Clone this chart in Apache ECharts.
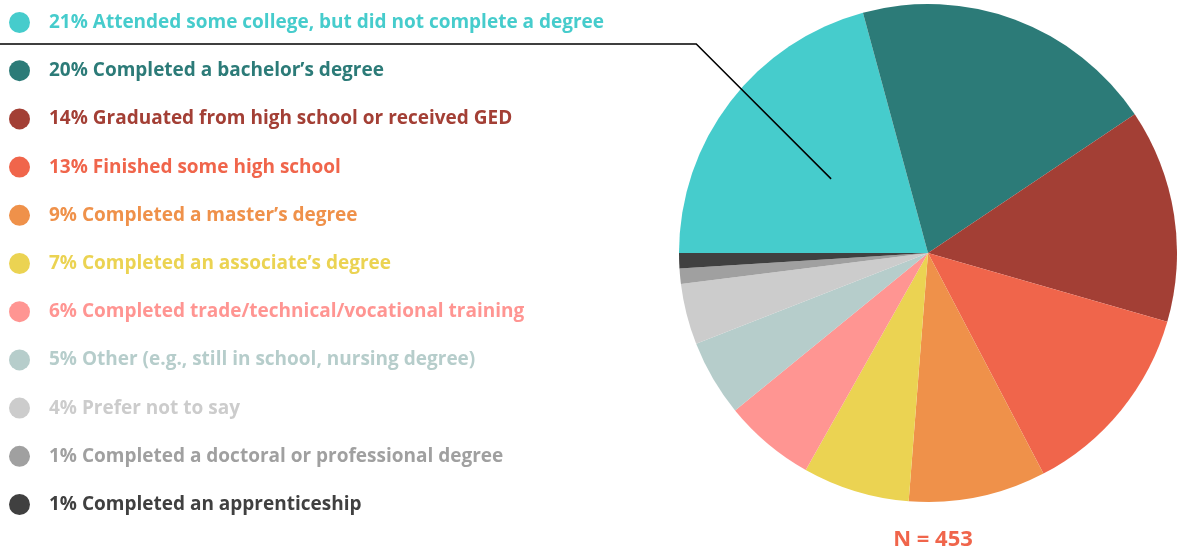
<!DOCTYPE html>
<html>
<head>
<meta charset="utf-8">
<script src="https://cdn.jsdelivr.net/npm/echarts@6/dist/echarts.min.js"></script>
<style>
html, body { margin: 0; padding: 0; background: #fff; }
#chart { width: 1177px; height: 548px; }
</style>
</head>
<body>
<div id="chart"></div>
<script>
var labels = [
	'Attended some college, but did not complete a degree',
	'Completed a bachelor\u2019s degree',
	'Graduated from high school or received GED',
	'Finished some high school',
	'Completed a master\u2019s degree',
	'Completed an associate\u2019s degree',
	'Completed trade/technical/vocational training',
	'Other (e.g., still in school, nursing degree)',
	'Prefer not to say',
	'Completed a doctoral or professional degree',
	'Completed an apprenticeship'
];
var pcts = [21, 20, 14, 13, 9, 7, 6, 5, 4, 1, 1];
var colors = ['#46cccc', '#2c7b78', '#a33f35', '#f0654b', '#ef914a', '#ebd352',
	'#ff9592', '#b6cdcb', '#cccccc', '#a0a0a0', '#404040'];
var nText = 'N = 453';

var fontFam = '"Open Sans", sans-serif';
var center = [928, 253];
var radius = 249;

var names = [], pieData = [], legendData = [];
for (var i = 0; i < labels.length; i++) {
	names.push(pcts[i] + '% ' + labels[i]);
	pieData.push({ name: names[i], value: pcts[i], itemStyle: { color: colors[i] } });
	legendData.push({ name: names[i], itemStyle: { color: colors[i] }, textStyle: { color: colors[i] } });
}

// leader line: from middle of first slice, up-left, then flat to the left edge
var total = 0;
for (var j = 0; j < pcts.length; j++) total += pcts[j];
var startDeg = 180;
var midDeg = startDeg - (pcts[0] / total) * 360 / 2;
var rad = midDeg * Math.PI / 180;
var px = center[0] + Math.cos(rad) * radius * 0.49;
var py = center[1] - Math.sin(rad) * radius * 0.49;
var elbowY = 44;
var elbowX = px - (py - elbowY) * 1.0;

var option = {
	backgroundColor: '#fff',
	animation: false,
	title: {
		text: nText,
		left: center[0],
		textAlign: 'center',
		top: 524,
		textStyle: { color: '#f0654b', fontFamily: fontFam, fontWeight: 'bold', fontSize: 22 }
	},
	legend: {
		orient: 'vertical',
		left: 9,
		top: 12,
		padding: 0,
		icon: 'circle',
		itemWidth: 21,
		itemHeight: 21,
		itemGap: 27.2,
		selectedMode: false,
		data: legendData,
		textStyle: {
			fontFamily: fontFam,
			fontWeight: 'bold',
			fontSize: 19,
			padding: [0, 0, 0, 14]
		}
	},
	series: [{
		type: 'pie',
		center: center,
		radius: [0, radius],
		startAngle: startDeg,
		clockwise: true,
		label: { show: false },
		labelLine: { show: false },
		emphasis: { disabled: true },
		data: pieData
	}],
	graphic: [{
		type: 'polyline',
		z: 100,
		shape: { points: [[0, elbowY], [elbowX, elbowY], [px, py]] },
		style: { stroke: '#000', lineWidth: 1.5, fill: null }
	}]
};

var chart = echarts.init(document.getElementById('chart'));
chart.setOption(option);
</script>
</body>
</html>
